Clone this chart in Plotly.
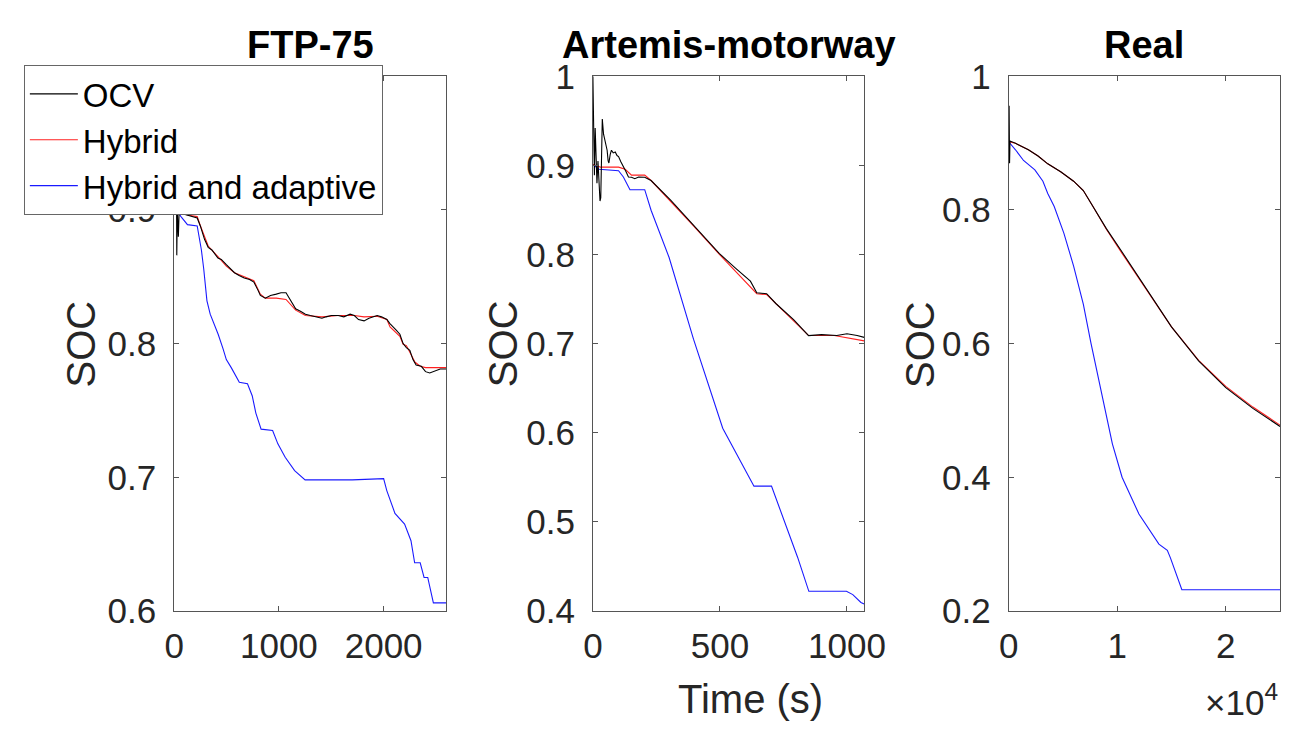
import plotly.graph_objects as go

# ---- data ----
# FTP-75
ftp_t_ocv = [0, 10, 15, 20, 25, 30, 40, 50, 65, 75, 90, 140, 180, 220, 250, 290, 325, 360, 418, 450,
             498, 540, 576, 620, 669, 720, 761, 800, 823, 870, 920, 975, 1020, 1068, 1110, 1160,
             1210, 1253, 1300, 1350, 1411, 1450, 1500, 1566, 1620, 1680, 1720, 1760, 1813, 1860,
             1938, 1980, 2031, 2060, 2092, 2120, 2155, 2186, 2217, 2250, 2280, 2310, 2360, 2400,
             2440, 2480, 2540, 2600]
ftp_soc_ocv = [0.900, 0.905, 0.930, 0.960, 0.866, 0.900, 0.880, 0.905, 0.912, 0.900, 0.897, 0.896,
               0.895, 0.894, 0.888, 0.878, 0.872, 0.870, 0.864, 0.863, 0.859, 0.856, 0.853, 0.851,
               0.849, 0.848, 0.846, 0.840, 0.836, 0.834, 0.836, 0.837, 0.838, 0.838, 0.832, 0.826,
               0.824, 0.822, 0.821, 0.820, 0.819, 0.820, 0.821, 0.821, 0.820, 0.822, 0.821, 0.818,
               0.817, 0.819, 0.821, 0.820, 0.818, 0.815, 0.812, 0.810, 0.807, 0.800, 0.797, 0.795,
               0.788, 0.784, 0.783, 0.779, 0.778, 0.779, 0.781, 0.781]
ftp_t_hyb = [0, 40, 140, 220, 251, 325, 418, 498, 576, 669, 761, 823, 870, 975, 1068, 1160, 1253,
             1411, 1566, 1720, 1813, 1938, 2031, 2061, 2155, 2186, 2217, 2260, 2300, 2350, 2400, 2600]
ftp_soc_hyb = [0.900, 0.898, 0.896, 0.895, 0.888, 0.873, 0.865, 0.858, 0.853, 0.850, 0.847, 0.837,
               0.834, 0.834, 0.833, 0.825, 0.821, 0.820, 0.821, 0.821, 0.820, 0.8205, 0.818, 0.8125,
               0.8055, 0.7995, 0.7985, 0.792, 0.786, 0.783, 0.782, 0.782]
ftp_t_ada = [0, 20, 65, 127, 220, 240, 260, 282, 300, 313, 344, 390, 420, 467, 498, 545, 622, 700,
             745, 780, 830, 940, 990, 1060, 1150, 1250, 1700, 2000, 2030, 2108, 2200, 2261, 2296,
             2349, 2386, 2421, 2475, 2600]
ftp_soc_ada = [0.900, 0.900, 0.895, 0.889, 0.888, 0.880, 0.870, 0.856, 0.842, 0.832, 0.822, 0.813,
               0.807, 0.796, 0.788, 0.782, 0.771, 0.770, 0.761, 0.748, 0.736, 0.735, 0.725, 0.715,
               0.705, 0.698, 0.698, 0.699, 0.690, 0.673, 0.665, 0.6525, 0.636, 0.636, 0.625, 0.625,
               0.606, 0.606]

# Artemis-motorway
art_t_ocv = [0, 3, 6, 9, 12, 16, 20, 24, 28, 31, 37, 42, 47, 52, 56, 60, 63, 68, 73, 80, 88, 95,
             101, 110, 120, 130, 140, 152, 165, 180, 204, 229, 306, 396, 498, 560, 620, 645, 684,
             720, 790, 849, 900, 960, 1000, 1040, 1068]
art_soc_ocv = [1.0, 0.96, 0.889, 0.942, 0.92, 0.88, 0.905, 0.8815, 0.86, 0.8637, 0.952, 0.935,
               0.927, 0.92, 0.917, 0.905, 0.9027, 0.912, 0.917, 0.914, 0.915, 0.911, 0.9098, 0.904,
               0.899, 0.893, 0.887, 0.8867, 0.885, 0.887, 0.8867, 0.883, 0.861, 0.833, 0.801, 0.785,
               0.770, 0.757, 0.756, 0.745, 0.727, 0.709, 0.710, 0.709, 0.711, 0.709, 0.707]
art_t_hyb = [0, 31, 101, 127, 152, 204, 229, 306, 396, 498, 580, 645, 684, 849, 950, 1068]
art_soc_hyb = [0.901, 0.898, 0.898, 0.8956, 0.889, 0.889, 0.883, 0.860, 0.832, 0.800, 0.776, 0.756,
               0.755, 0.709, 0.709, 0.703]
art_t_ada = [0, 24, 101, 120, 146, 204, 229, 300, 396, 511, 634, 703, 806, 850, 998, 1023, 1055, 1068]
art_soc_ada = [0.901, 0.8956, 0.894, 0.887, 0.8727, 0.8727, 0.8496, 0.7966, 0.705, 0.605, 0.540,
               0.540, 0.460, 0.422, 0.422, 0.4183, 0.4095, 0.4077]

# Real
real_t_ocv = [0, 40, 80, 120, 625, 1815, 2706, 3600, 4790, 5982, 6875, 7768, 9000, 10447, 12500,
              15000, 17500, 20000, 22500, 25000]
real_soc_ocv = [0.902, 0.956, 0.870, 0.903, 0.8997, 0.890, 0.8806, 0.869, 0.857, 0.843, 0.829,
                0.805, 0.772, 0.737, 0.686, 0.625, 0.574, 0.534, 0.503, 0.476]
real_t_hyb = [0, 625, 1815, 2706, 3600, 4790, 5982, 6875, 7768, 9000, 10447, 12500, 15000, 17500,
              20000, 22500, 25000]
real_soc_hyb = [0.902, 0.8997, 0.890, 0.8806, 0.869, 0.857, 0.843, 0.829, 0.805, 0.771, 0.735,
                0.685, 0.625, 0.575, 0.536, 0.505, 0.478]
real_t_ada = [0, 625, 1366, 2411, 3154, 3600, 4196, 5090, 5982, 6875, 7590, 8661, 9554, 10447, 12000,
              13840, 14616, 14910, 15510, 15955, 25000]
real_soc_ada = [0.902, 0.890, 0.874, 0.860, 0.843, 0.8245, 0.805, 0.765, 0.716, 0.659, 0.600, 0.517,
                0.450, 0.400, 0.345, 0.300, 0.2906, 0.279, 0.2528, 0.2316, 0.2316]

titles = ['FTP-75', 'Artemis-motorway', 'Real']
x_ranges = [[0, 2600], [0, 1068], [0, 25000]]
y_ranges = [[0.6, 1.0], [0.4, 1.0], [0.2, 1.0]]
y_ticks = [[0.6, 0.7, 0.8, 0.9, 1.0], [0.4, 0.5, 0.6, 0.7, 0.8, 0.9, 1.0], [0.2, 0.4, 0.6, 0.8, 1.0]]
x_ticks = [[0, 1000, 2000], [0, 500, 1000], [0, 10000, 20000]]
x_ticktext = [['0', '1000', '2000'], ['0', '500', '1000'], ['0', '1', '2']]

series = [
    [(ftp_t_ocv, ftp_soc_ocv), (ftp_t_hyb, ftp_soc_hyb), (ftp_t_ada, ftp_soc_ada)],
    [(art_t_ocv, art_soc_ocv), (art_t_hyb, art_soc_hyb), (art_t_ada, art_soc_ada)],
    [(real_t_ocv, real_soc_ocv), (real_t_hyb, real_soc_hyb), (real_t_ada, real_soc_ada)],
]
names = ['OCV', 'Hybrid', 'Hybrid and adaptive']
colors = ['#000000', '#ff2020', '#1a1aff']

# ---- layout geometry, in pixels of the 1310x742 window ----
# the page body keeps its default 8px margin, so the figure is 16px smaller
PAD = 8
W, H = 1310, 742
FW, FH = W - 2 * PAD, H - 2 * PAD


def fx(p):
    return (p - PAD) / FW


def fy(p):
    return 1 - (p - PAD) / FH


left_px = [168, 597, 1023]
right_px = [447, 875, 1301]
top_px, bottom_px = 59, 624
FONT = 'Liberation Sans, Arial, Helvetica, sans-serif'

fig = go.Figure()
for i in range(3):
    xa = 'x' if i == 0 else f'x{i + 1}'
    ya = 'y' if i == 0 else f'y{i + 1}'
    # adaptive first, OCV last so it sits on top
    for k in [2, 1, 0]:
        t, s = series[i][k]
        fig.add_trace(go.Scatter(
            x=t, y=s, mode='lines', name=names[k], xaxis=xa, yaxis=ya,
            line=dict(color=colors[k], width=1.1),
            showlegend=(i == 0), legendrank=k,
        ))

axis_common = dict(showline=True, linecolor='#555555', linewidth=1, mirror='ticks',
                   ticks='inside', ticklen=5, tickcolor='#555555', showgrid=False,
                   zeroline=False, tickfont=dict(family=FONT, size=35, color='#262626'))

layout = dict(
    width=FW, height=FH, paper_bgcolor='white', plot_bgcolor='white',
    margin=dict(l=0, r=0, t=0, b=0), showlegend=True,
    legend=dict(x=fx(14), y=fy(47), xanchor='left', yanchor='top',
                bgcolor='white', bordercolor='#666666', borderwidth=1,
                font=dict(family=FONT, size=33, color='#000000'),
                tracegroupgap=0, itemwidth=48),
)
annotations = []
for i in range(3):
    xk = 'xaxis' if i == 0 else f'xaxis{i + 1}'
    yk = 'yaxis' if i == 0 else f'yaxis{i + 1}'
    layout[xk] = dict(axis_common, domain=[fx(left_px[i]), fx(right_px[i])], range=x_ranges[i],
                      tickvals=x_ticks[i], ticktext=x_ticktext[i], ticklabelstandoff=4,
                      anchor='y' if i == 0 else f'y{i + 1}')
    layout[yk] = dict(axis_common, domain=[fy(bottom_px), fy(top_px)], range=y_ranges[i],
                      tickvals=y_ticks[i], ticktext=[f'{v:g}' for v in y_ticks[i]],
                      ticklabelstandoff=10, anchor='x' if i == 0 else f'x{i + 1}')
    annotations.append(dict(text=f'<b>{titles[i]}</b>', x=fx((left_px[i] + right_px[i]) / 2),
                            y=fy(26), xref='paper', yref='paper', showarrow=False,
                            xanchor='center', yanchor='middle',
                            font=dict(family=FONT, size=38, color='#000000')))
soc_x = [73, 505, 932]
for i in range(3):
    annotations.append(dict(text='SOC', x=fx(soc_x[i]), y=fy(342), xref='paper', yref='paper',
                            showarrow=False, textangle=-90, xanchor='center', yanchor='middle',
                            font=dict(family=FONT, size=40, color='#262626')))
annotations.append(dict(text='Time (s)', x=fx(758), y=fy(717), xref='paper', yref='paper',
                        showarrow=False, xanchor='center', yanchor='middle',
                        font=dict(family=FONT, size=40, color='#262626')))
annotations.append(dict(text='×10<sup>4</sup>', x=fx(1301), y=fy(718), xref='paper', yref='paper',
                        showarrow=False, xanchor='right', yanchor='middle',
                        font=dict(family=FONT, size=35, color='#262626')))
layout['annotations'] = annotations
fig.update_layout(**layout)

fig.write_html('out.html')
